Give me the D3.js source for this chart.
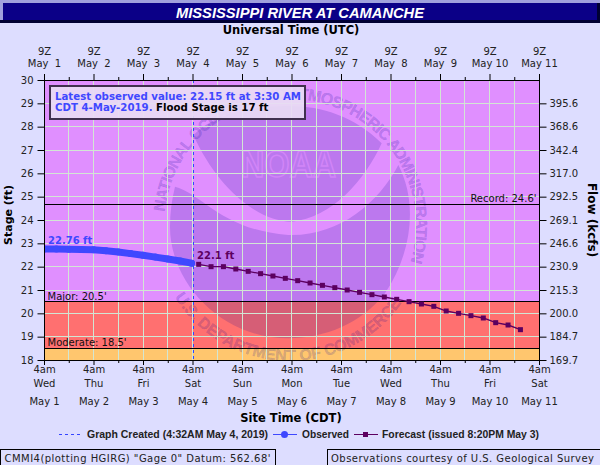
<!DOCTYPE html>
<html><head><meta charset="utf-8">
<script src="https://cdn.jsdelivr.net/npm/d3@7"></script>
<style>
html,body{margin:0;padding:0;background:#DDDDFF;overflow:hidden}
svg{display:block}
text{font-family:"DejaVu Sans",sans-serif;white-space:pre}
.domain{display:none}
</style></head><body><svg id="c" width="600" height="465"></svg>
<script>
const titleText="MISSISSIPPI RIVER AT CAMANCHE";
const days=["2019-05-01","2019-05-02","2019-05-03","2019-05-04","2019-05-05","2019-05-06","2019-05-07","2019-05-08","2019-05-09","2019-05-10","2019-05-11"];
const zLabels=["9Z","9Z","9Z","9Z","9Z","9Z","9Z","9Z","9Z","9Z","9Z"];
const topDayLabels=["May  1","May  2","May  3","May  4","May  5","May  6","May  7","May  8","May  9","May 10","May 11"];
const hourLabels=["4am","4am","4am","4am","4am","4am","4am","4am","4am","4am","4am"];
const weekdayLabels=["Wed","Thu","Fri","Sat","Sun","Mon","Tue","Wed","Thu","Fri","Sat"];
const dateLabels=["May 1","May 2","May 3","May 4","May 5","May 6","May 7","May 8","May 9","May 10","May 11"];
const stageTicks=[18,19,20,21,22,23,24,25,26,27,28,29,30];
const flowTicks=[169.7,184.7,200.0,215.3,230.9,246.6,269.1,292.5,317.0,342.4,368.6,395.6];
const obsTimes=["2019-05-01T09:00Z","2019-05-01T15:00Z","2019-05-01T21:00Z","2019-05-02T03:00Z","2019-05-02T09:00Z","2019-05-02T15:00Z","2019-05-02T21:00Z","2019-05-03T03:00Z","2019-05-03T09:00Z","2019-05-03T15:00Z","2019-05-03T21:00Z","2019-05-04T03:00Z","2019-05-04T08:30Z"];
const obsValues=[22.76,22.76,22.75,22.74,22.72,22.68,22.63,22.56,22.49,22.41,22.33,22.24,22.15];
const fcstTimes=["2019-05-04T12:00Z","2019-05-04T18:00Z","2019-05-05T00:00Z","2019-05-05T06:00Z","2019-05-05T12:00Z","2019-05-05T18:00Z","2019-05-06T00:00Z","2019-05-06T06:00Z","2019-05-06T12:00Z","2019-05-06T18:00Z","2019-05-07T00:00Z","2019-05-07T06:00Z","2019-05-07T12:00Z","2019-05-07T18:00Z","2019-05-08T00:00Z","2019-05-08T06:00Z","2019-05-08T12:00Z","2019-05-08T18:00Z","2019-05-09T00:00Z","2019-05-09T06:00Z","2019-05-09T12:00Z","2019-05-09T18:00Z","2019-05-10T00:00Z","2019-05-10T06:00Z","2019-05-10T12:00Z","2019-05-10T18:00Z","2019-05-11T00:00Z"];
const fcstValues=[22.1,22.0,22.0,21.9,21.8,21.7,21.6,21.5,21.4,21.3,21.2,21.1,21.0,20.9,20.8,20.7,20.6,20.5,20.4,20.3,20.1,20.0,19.9,19.8,19.6,19.5,19.3];
const bandNames=["Moderate","Major","Above"];
const bandFrom=[18,18.5,20.5];
const bandTo=[18.5,20.5,30];
const bandColors=["#FFC66E","#FF7070","#E08FFF"];
const lineLevels=[18.5,20.5,24.68];
const lineLabels=["Moderate: 18.5'","Major: 20.5'","Record: 24.6'"];
const createdTime="2019-05-04T09:32Z";

const svg=d3.select("#c");
const L=44.5,R=539.5,T=80,B=360;
const d9=s=>new Date(s+"T09:00Z");
const x=d3.scaleUtc().domain([d9(days[0]),d9(days[10])]).range([44,539]);
const y=d3.scaleLinear().domain([18,30]).range([B,T]);
const flowY=d3.scaleOrdinal().domain(flowTicks).range(stageTicks.slice(0,12).map(v=>y(v)));
const dayDates=days.map(d9);
const halfDays=d3.utcHours(dayDates[0],dayDates[10],12).filter((d,i)=>i%2==1);
const snap=v=>Math.floor(v)+.5;

// title bar
svg.append("rect").attr("width",600).attr("height",3).attr("fill","#A0A0DD");
svg.append("rect").attr("width",3).attr("height",22).attr("fill","#A0A0DD");
svg.append("rect").attr("x",3).attr("y",3).attr("width",594).attr("height",17).attr("fill","#0B0087");
svg.append("rect").attr("x",0).attr("y",20).attr("width",600).attr("height",3).attr("fill","#000033");
svg.append("rect").attr("x",597).attr("y",3).attr("width",3).attr("height",20).attr("fill","#000033");
svg.append("text").attr("x",176).attr("y",18).attr("textLength",248).attr("lengthAdjust","spacingAndGlyphs")
  .style("font-family","'Liberation Sans',sans-serif").style("font-weight","bold").style("font-style","italic")
  .style("font-size","15.5px").attr("fill","#fff").text(titleText);

// bands
svg.append("g").selectAll("rect").data(bandNames).join("rect")
  .attr("x",L).attr("width",R-L)
  .attr("y",(d,i)=>y(bandTo[i])).attr("height",(d,i)=>y(bandFrom[i])-y(bandTo[i]))
  .attr("fill",(d,i)=>bandColors[i]);

// watermark
const cx=290,cy=225;
svg.append("clipPath").attr("id","pc").append("rect").attr("x",L).attr("y",T).attr("width",R-L).attr("height",B-T);
const wm=svg.append("g").attr("clip-path","url(#pc)").attr("fill","rgb(0,0,150)").attr("fill-opacity",0.16);
const Z=(a,b)=>[165+a/3,80+b/3];
const P=(a,b)=>Z(a,b).join(",");
wm.append("path").attr("d",`M${P(85,165)} C${P(160,90)} ${P(300,75)} ${P(375,78)} C${P(470,78)} ${P(570,110)} ${P(650,190)} C${P(600,300)} ${P(500,415)} ${P(380,425)} C${P(270,425)} ${P(150,310)} ${P(85,165)}Z`);
wm.append("path").attr("d",`M${P(30,320)} C${P(110,340)} ${P(170,450)} ${P(370,465)} C${P(520,470)} ${P(640,370)} ${P(700,255)} C${P(760,370)} ${P(740,520)} ${P(660,640)} C${P(590,730)} ${P(480,775)} ${P(370,775)} C${P(170,775)} ${P(15,610)} ${P(15,440)} C${P(15,400)} ${P(20,360)} ${P(30,320)}Z`);
const rad=a=>a*Math.PI/180;
const arcPath=(r,a0,a1,large,sweep)=>{
  const sx=cx+r*Math.cos(rad(a0)),sy=cy+r*Math.sin(rad(a0)),ex=cx+r*Math.cos(rad(a1)),ey=cy+r*Math.sin(rad(a1));
  return `M${sx},${sy}A${r},${r} 0 ${large} ${sweep} ${ex},${ey}`;
};
const defs=svg.append("defs");
defs.append("path").attr("id","arcTop").attr("d",arcPath(126,186,378,1,1));
defs.append("path").attr("id","arcBot").attr("d",arcPath(136,148,32,0,0));
const wmText=(id,s,len,fs)=>wm.append("text").style("font-family","'Liberation Sans',sans-serif").style("font-weight","bold").style("font-size",fs+"px")
  .attr("stroke","rgb(0,0,150)").attr("stroke-width",.5).attr("stroke-opacity",.16)
  .append("textPath").attr("href","#"+id).attr("textLength",len).attr("lengthAdjust","spacing").text(s);
wmText("arcTop","NATIONAL OCEANIC AND ATMOSPHERIC ADMINISTRATION",420,16);
wmText("arcBot","U.S. DEPARTMENT OF COMMERCE",268,16);
svg.append("text").attr("x",241).attr("y",177).attr("textLength",95).attr("lengthAdjust","spacingAndGlyphs")
  .style("font-family","'Liberation Sans',sans-serif").style("font-weight","bold").style("font-size","36px")
  .attr("fill","none").attr("stroke","#E08FFF").attr("stroke-width",1.6).attr("stroke-opacity",.6).text("NOAA");

// grid
const grid=svg.append("g").attr("stroke","#D2E6D4").attr("stroke-width",1).attr("shape-rendering","crispEdges");
grid.selectAll(".v").data(dayDates.slice(1,10).concat(halfDays)).join("line").attr("class","v")
  .attr("x1",d=>snap(x(d))).attr("x2",d=>snap(x(d))).attr("y1",T).attr("y2",B);
grid.selectAll(".h").data(stageTicks.slice(1,12)).join("line").attr("class","h")
  .attr("x1",L).attr("x2",R).attr("y1",d=>snap(y(d))).attr("y2",d=>snap(y(d)));

// threshold lines
svg.append("g").selectAll("line").data(lineLevels).join("line")
  .attr("x1",L).attr("x2",R).attr("y1",d=>snap(y(d))).attr("y2",d=>snap(y(d)))
  .attr("stroke","#000").attr("shape-rendering","crispEdges");
const tl=svg.append("g").style("font-size","10px").attr("fill","#111");
lineLevels.forEach((v,i)=>{
  tl.append("text").attr("x",i==2?R-3:L+3).attr("y",y(v)-2).attr("text-anchor",i==2?"end":"start").text(lineLabels[i]);
});

// created line
const cxx=snap(x(new Date(createdTime)));
svg.append("line").attr("x1",cxx).attr("x2",cxx)
  .attr("y1",T).attr("y2",B).attr("stroke","#3344FF").attr("stroke-dasharray","3 3").attr("shape-rendering","crispEdges");

// series
const obs=obsTimes.map((t,i)=>[new Date(t),obsValues[i]]);
const fc=fcstTimes.map((t,i)=>[new Date(t),fcstValues[i]]);
const line=d3.line().x(d=>x(d[0])).y(d=>y(d[1]));
const og=svg.append("g").attr("clip-path","url(#pc)");
og.append("path").attr("d",line(obs)).attr("fill","none").attr("stroke","#3F48FF").attr("stroke-width",7).attr("stroke-linecap","round");
og.selectAll("circle").data(obs).join("circle").attr("cx",d=>x(d[0])).attr("cy",d=>y(d[1])).attr("r",3.5).attr("fill","#3F48FF");
svg.append("path").attr("d",line(fc)).attr("fill","none").attr("stroke","#5C0060").attr("stroke-width",1.3);
svg.append("g").selectAll("rect").data(fc).join("rect").attr("x",d=>x(d[0])-2.5).attr("y",d=>y(d[1])-2.5).attr("width",5).attr("height",5).attr("fill","#5C0060");
svg.append("text").attr("x",48).attr("y",y(obsValues[0])-5).attr("fill","#3F48FF").style("font-size","10px").style("font-weight","bold").text("22.76 ft");
svg.append("text").attr("x",197).attr("y",y(fcstValues[0])-5).attr("fill","#5C0060").style("font-size","10px").style("font-weight","bold").text("22.1 ft");

// frame
svg.append("rect").attr("x",L).attr("y",T+.5).attr("width",R-L).attr("height",B-T).attr("fill","none").attr("stroke","#000").attr("shape-rendering","crispEdges");

// axes
const fmt=a=>(d,i)=>a[i];
const row=(gen,a,pad,yy)=>{
  const g=svg.append("g").attr("transform",`translate(0,${yy})`).call(gen(x).tickValues(dayDates).tickFormat(fmt(a)).tickSize(0).tickPadding(pad));
  g.selectAll("text").attr("fill","#222").style("font-size","10px").style("font-family",null);
  g.selectAll("line").remove();
  return g;
};
const ticksOnly=(gen,vals,sz,yy)=>{
  const g=svg.append("g").attr("transform",`translate(0,${yy})`).call(gen(x).tickValues(vals).tickFormat("").tickSize(sz));
  g.selectAll("line").attr("stroke","#000");
};
ticksOnly(d3.axisTop,dayDates,6,T);
ticksOnly(d3.axisTop,halfDays,3,T);
ticksOnly(d3.axisBottom,dayDates,5,B);
ticksOnly(d3.axisBottom,halfDays,3,B);
row(d3.axisTop,zLabels,0,55);
row(d3.axisTop,topDayLabels,0,67);
row(d3.axisBottom,hourLabels,0,366);
row(d3.axisBottom,weekdayLabels,0,380);
row(d3.axisBottom,dateLabels,0,398);

const yl=svg.append("g").attr("transform",`translate(${L},0)`).call(d3.axisLeft(y).tickValues(stageTicks).tickSize(7).tickPadding(4));
yl.selectAll("text").attr("fill","#222").style("font-size","10px").style("font-family",null);
yl.selectAll("line").attr("stroke","#000");
const yr=svg.append("g").attr("transform",`translate(${R},0)`).call(d3.axisRight(flowY).tickValues(flowTicks).tickFormat(d3.format(".1f")).tickSize(7).tickPadding(3));
yr.selectAll("text").attr("fill","#222").style("font-size","10px").style("font-family",null);
yr.selectAll("line").attr("stroke","#000");

// axis titles
const bold=(xx,yy,s,size,anchor)=>svg.append("text").attr("x",xx).attr("y",yy).attr("text-anchor",anchor||"middle").style("font-weight","bold").style("font-size",size+"px").attr("fill","#000").text(s);
bold(291,34,"Universal Time (UTC)",11.5);
bold(291,422,"Site Time (CDT)",11.5);
bold(0,0,"Stage (ft)",11).attr("transform","translate(12,215) rotate(-90)");
bold(0,0,"Flow (kcfs)",12).attr("transform","translate(588,220) rotate(90)");

// info box
svg.append("rect").attr("x",50).attr("y",86).attr("width",255).attr("height",33).attr("fill","#E8DCF4").attr("fill-opacity",.92).attr("stroke","#40304F").attr("stroke-width",2);
svg.append("text").attr("x",55).attr("y",100).attr("fill","#3F48FF").style("font-size","10.2px").style("font-weight","bold").text("Latest observed value: 22.15 ft at 3:30 AM");
const t2=svg.append("text").attr("x",55).attr("y",111).style("font-size","10.2px").style("font-weight","bold");
t2.append("tspan").attr("fill","#3F48FF").text("CDT 4-May-2019.");
t2.append("tspan").attr("fill","#000").text(" Flood Stage is 17 ft");

// legend
const lg=(xx,s,len)=>svg.append("text").attr("x",xx).attr("y",438).attr("textLength",len).attr("lengthAdjust","spacingAndGlyphs").style("font-family","'Liberation Sans',sans-serif").style("font-weight","bold").style("font-size","11px").attr("fill","#222").text(s);
svg.append("line").attr("x1",59).attr("x2",81).attr("y1",434.5).attr("y2",434.5).attr("stroke","#3344FF").attr("stroke-dasharray","3 3").attr("shape-rendering","crispEdges");
lg(87,"Graph Created (4:32AM May 4, 2019)",181);
svg.append("line").attr("x1",273).attr("x2",297).attr("y1",434.5).attr("y2",434.5).attr("stroke","#3F48FF");
svg.append("circle").attr("cx",284.5).attr("cy",434.5).attr("r",3.5).attr("fill","#3F48FF");
lg(302,"Observed",47);
svg.append("line").attr("x1",354).attr("x2",378).attr("y1",434.5).attr("y2",434.5).attr("stroke","#5C0060");
svg.append("rect").attr("x",363).attr("y",432).attr("width",5).attr("height",5).attr("fill","#5C0060");
lg(382,"Forecast (issued 8:20PM May 3)",157);

// footer boxes
const foot=(x0,x1,tx,s,len)=>{
  svg.append("rect").attr("x",x0).attr("y",449.5).attr("width",x1-x0).attr("height",20).attr("fill","none").attr("stroke","#000").attr("shape-rendering","crispEdges");
  svg.append("text").attr("x",tx).attr("y",462).attr("textLength",len).style("font-size","10px").attr("fill","#222").text(s);
};
foot(.5,275.5,4.5,"CMMI4(plotting HGIRG) \"Gage 0\" Datum: 562.68'",266);
foot(327.5,605,331,"Observations courtesy of U.S. Geological Survey",263);
</script></body></html>
